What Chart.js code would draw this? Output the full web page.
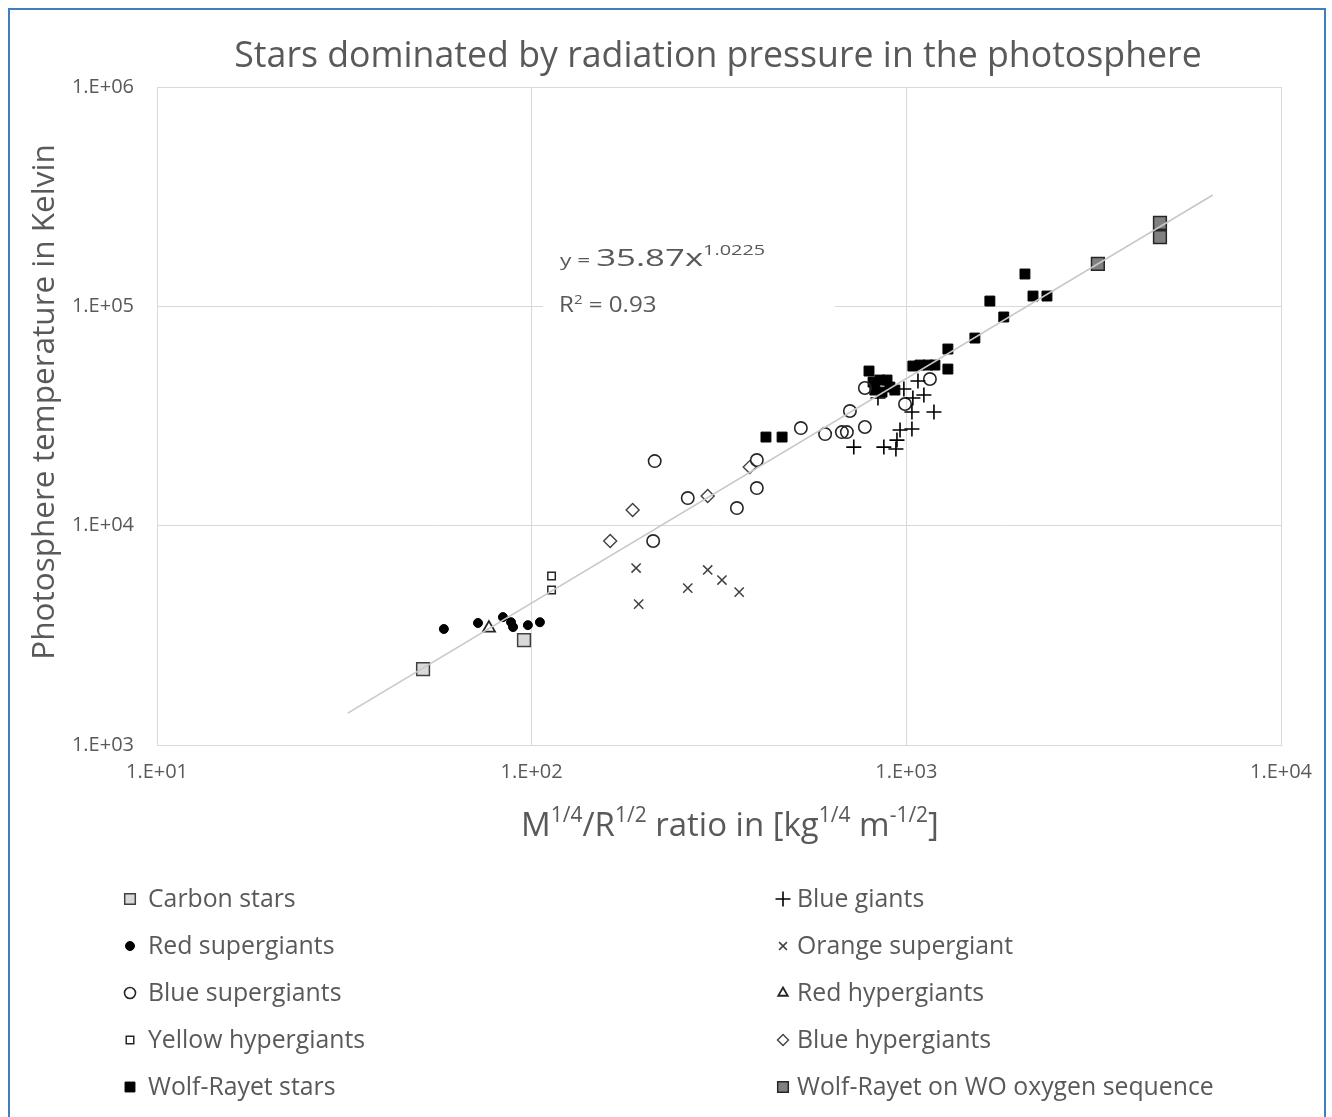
<!DOCTYPE html>
<html>
<head>
<meta charset="utf-8">
<script src="https://cdn.jsdelivr.net/npm/chart.js@4.4.1/dist/chart.umd.min.js"></script>
<style>
  html, body { margin: 0; padding: 0; background: #fff; }
  #wrap { position: relative; width: 1332px; height: 1117px; overflow: hidden; }
  #frame { position: absolute; left: 8px; top: 8px; width: 1318px; height: 1130px;
           border: 2px solid #3f7fc0; box-sizing: border-box; pointer-events: none; }
  canvas { position: absolute; left: 0; top: 0; }
</style>
</head>
<body>
<div id="wrap">
  <canvas id="chart" width="1332" height="1117"></canvas>
  <div id="frame"></div>
</div>
<script>
// values (log-log axes)
const carbonX = [51.3, 95.4];
const carbonY = [2220, 3010];
const redSgX = [58.3, 71.9, 83.8, 88.1, 89.2, 97.7, 105.2];
const redSgY = [3380, 3600, 3830, 3630, 3450, 3520, 3630];
const blueSgX = [213, 211, 261, 353, 399, 399, 523, 607, 673, 694, 707, 775, 775, 992, 1156];
const blueSgY = [19700, 8510, 13360, 12030, 14840, 19910, 27860, 26150, 26700, 26700, 33310, 28180, 42420, 35850, 46620];
const yellowHgX = [113, 113];
const yellowHgY = [5890, 5090];
const wrX = [422, 466, 795, 815, 850, 888, 824, 861, 904, 932, 1041, 1087, 1142, 1192, 1291, 1291, 1524, 1671, 1820, 2073, 2178, 2373];
const wrY = [25350, 25350, 50700, 45160, 46130, 46130, 41530, 40640, 42850, 41530, 53440, 53980, 53980, 53980, 63880, 51760, 71670, 105700, 89400, 140400, 111400, 111400];
const blueGX = [724, 871, 938, 944, 962, 1035, 1035, 1185, 1041, 1114, 1074, 985, 840];
const blueGY = [22820, 22820, 22350, 24560, 27290, 27580, 32960, 32960, 38190, 39400, 45640, 41980, 38190];
const orangeSgX = [190, 193, 261, 295, 322, 358];
const orangeSgY = [6410, 4390, 5190, 6280, 5650, 4980];
const redHgX = [76.9];
const redHgY = [3410];
const blueHgX = [162, 186, 295, 382];
const blueHgY = [8510, 11780, 13650, 18490];
const woX = [3245, 4753, 4753];
const woY = [156000, 239900, 207000];
// power trendline, end points as drawn
const trendX = [32.3, 6577];
const trendY = [1398, 321800];

const xTickVals = [10, 100, 1000, 10000];
const xTickLabels = ["1.E+01", "1.E+02", "1.E+03", "1.E+04"];
const yTickVals = [1000, 10000, 100000, 1000000];
const yTickLabels = ["1.E+03", "1.E+04", "1.E+05", "1.E+06"];

const FONT = "'Open Sans'";
const TXT = "#595959";

function pts(xs, ys) {
  return xs.map((x, i) => ({ x: x, y: ys[i] }));
}

function series(label, xs, ys, style, radius, fill, stroke, bw, legendRadius) {
  return {
    label: label,
    data: pts(xs, ys),
    pointStyle: style,
    pointRadius: radius,
    pointBackgroundColor: fill,
    pointBorderColor: stroke,
    pointBorderWidth: bw,
    legendRadius: legendRadius || radius,
  };
}

// legend order is row by row, two columns
const datasets = [
  {
    label: "trend",
    data: pts(trendX, trendY),
    showLine: true,
    borderColor: "#c8c8c8",
    borderWidth: 1.6,
    pointRadius: 0,
    isTrend: true,
  },
  series("Carbon stars", carbonX, carbonY, "rect", 9, "#d9d9d9", "#404040", 1.5, 7.5),
  series("Blue giants", blueGX, blueGY, "cross", 7.5, "#000", "#000", 1.6),
  series("Red supergiants", redSgX, redSgY, "circle", 4.5, "#000", "#000", 1),
  series("Orange supergiant", orangeSgX, orangeSgY, "crossRot", 6.5, "#000", "#404040", 1.5, 5.5),
  series("Blue supergiants", blueSgX, blueSgY, "circle", 6.2, "rgba(255,255,255,0)", "#262626", 1.6, 5.5),
  series("Red hypergiants", redHgX, redHgY, "triangle", 7, "rgba(255,255,255,0)", "#262626", 1.8, 5.5),
  series("Yellow hypergiants", yellowHgX, yellowHgY, "rect", 5.3, "#fff", "#262626", 1.5),
  series("Blue hypergiants", blueHgX, blueHgY, "rectRot", 6.5, "#fff", "#404040", 1.4, 5.5),
  series("Wolf-Rayet stars", wrX, wrY, "rect", 7, "#000", "#000", 1),
  series("Wolf-Rayet on WO oxygen sequence", woX, woY, "rect", 9, "#808080", "#262626", 1.5, 7.5),
];

function labelFor(vals, labels, v) {
  const i = vals.findIndex((t) => Math.abs(t - v) / t < 1e-6);
  return i >= 0 ? labels[i] : "";
}

// draws runs of text with different sizes / raised superscripts
function richText(ctx, parts, x, y, align, stretch) {
  const sx = stretch || 1;
  let total = 0;
  parts.forEach((p) => {
    ctx.font = p[1] + "px " + FONT;
    total += ctx.measureText(p[0]).width;
  });
  ctx.save();
  ctx.translate(align === "center" ? x - (total * sx) / 2 : x, y);
  ctx.scale(sx, 1);
  ctx.textAlign = "left";
  ctx.textBaseline = "alphabetic";
  let cx = 0;
  parts.forEach((p) => {
    ctx.font = p[1] + "px " + FONT;
    ctx.fillText(p[0], cx, p[2] || 0);
    cx += ctx.measureText(p[0]).width;
  });
  ctx.restore();
}

const decor = {
  id: "decor",
  beforeDatasetsDraw(chart) {
    const ctx = chart.ctx;
    // label box of the trendline hides the gridline behind it
    ctx.save();
    ctx.fillStyle = "#fff";
    ctx.fillRect(543, 240, 292, 82);
    ctx.restore();
  },
  afterDraw(chart) {
    const ctx = chart.ctx;
    const area = chart.chartArea;
    ctx.save();
    ctx.fillStyle = TXT;

    // title
    ctx.font = "35.7px " + FONT;
    ctx.textAlign = "center";
    ctx.textBaseline = "middle";
    ctx.fillText("Stars dominated by radiation pressure in the photosphere", 718, 57);

    // y axis title
    ctx.save();
    ctx.translate(45, 402);
    ctx.rotate(-Math.PI / 2);
    ctx.font = "31.5px " + FONT;
    ctx.fillText("Photosphere temperature in Kelvin", 0, 0);
    ctx.restore();

    // x axis title with superscripts
    richText(ctx, [
      ["M", 33], ["1/4", 21, -14], ["/R", 33], ["1/2", 21, -14],
      [" ratio in [kg", 33], ["1/4", 21, -14], [" m", 33], ["-1/2", 21, -14], ["]", 33],
    ], (area.left + area.right) / 2 + 11, 836, "center");

    // trendline equation
    richText(ctx, [["y = ", 16], ["35.87x", 24.5], ["1.0225", 14, -11]], 560, 266, "left", 1.42);
    richText(ctx, [["R", 21], ["2", 13, -8], [" = 0.93", 21]], 559, 312, "left", 1.15);

    // legend, two columns
    const rows = [899, 946, 993, 1040, 1087];
    const cols = [[130, 148], [783, 797]];
    const items = chart.data.datasets.filter((d) => !d.isTrend);
    items.forEach((d, i) => {
      const col = cols[i % 2];
      const y = rows[Math.floor(i / 2)];
      ctx.fillStyle = d.pointBackgroundColor;
      ctx.strokeStyle = d.pointBorderColor;
      ctx.lineWidth = d.pointBorderWidth;
      Chart.helpers.drawPoint(ctx, {
        pointStyle: d.pointStyle,
        radius: d.legendRadius,
        rotation: 0,
        borderWidth: d.pointBorderWidth,
      }, col[0], y);
      ctx.fillStyle = TXT;
      ctx.font = "24.8px " + FONT;
      ctx.textAlign = "left";
      ctx.textBaseline = "middle";
      ctx.fillText(d.label, col[1], y + 1);
    });
    ctx.restore();
  },
};

const axisCommon = {
  type: "logarithmic",
  grid: { color: "#d9d9d9", lineWidth: 1, drawTicks: false },
  border: { display: true, color: "#d9d9d9" },
};

new Chart(document.getElementById("chart"), {
  type: "scatter",
  data: { datasets: datasets },
  options: {
    responsive: false,
    animation: false,
    devicePixelRatio: 1,
    events: [],
    layout: { padding: { left: 0, top: 87, right: 51, bottom: 332 } },
    plugins: { legend: { display: false }, tooltip: { enabled: false } },
    scales: {
      x: Object.assign({}, axisCommon, {
        position: "bottom",
        min: 10,
        max: 10000,
        afterBuildTicks: (s) => { s.ticks = xTickVals.map((v) => ({ value: v })); },
        afterFit: (s) => { s.height = 40; },
        ticks: {
          autoSkip: false,
          maxRotation: 0,
          padding: 15,
          color: TXT,
          font: { family: FONT, size: 20 },
          callback: (v) => labelFor(xTickVals, xTickLabels, v),
        },
      }),
      y: Object.assign({}, axisCommon, {
        position: "left",
        min: 1000,
        max: 1000000,
        afterBuildTicks: (s) => { s.ticks = yTickVals.map((v) => ({ value: v })); },
        afterFit: (s) => { s.width = 157; },
        ticks: {
          autoSkip: false,
          padding: 23,
          color: TXT,
          font: { family: FONT, size: 20 },
          callback: (v) => labelFor(yTickVals, yTickLabels, v),
        },
      }),
    },
  },
  plugins: [decor],
});
</script>
</body>
</html>
